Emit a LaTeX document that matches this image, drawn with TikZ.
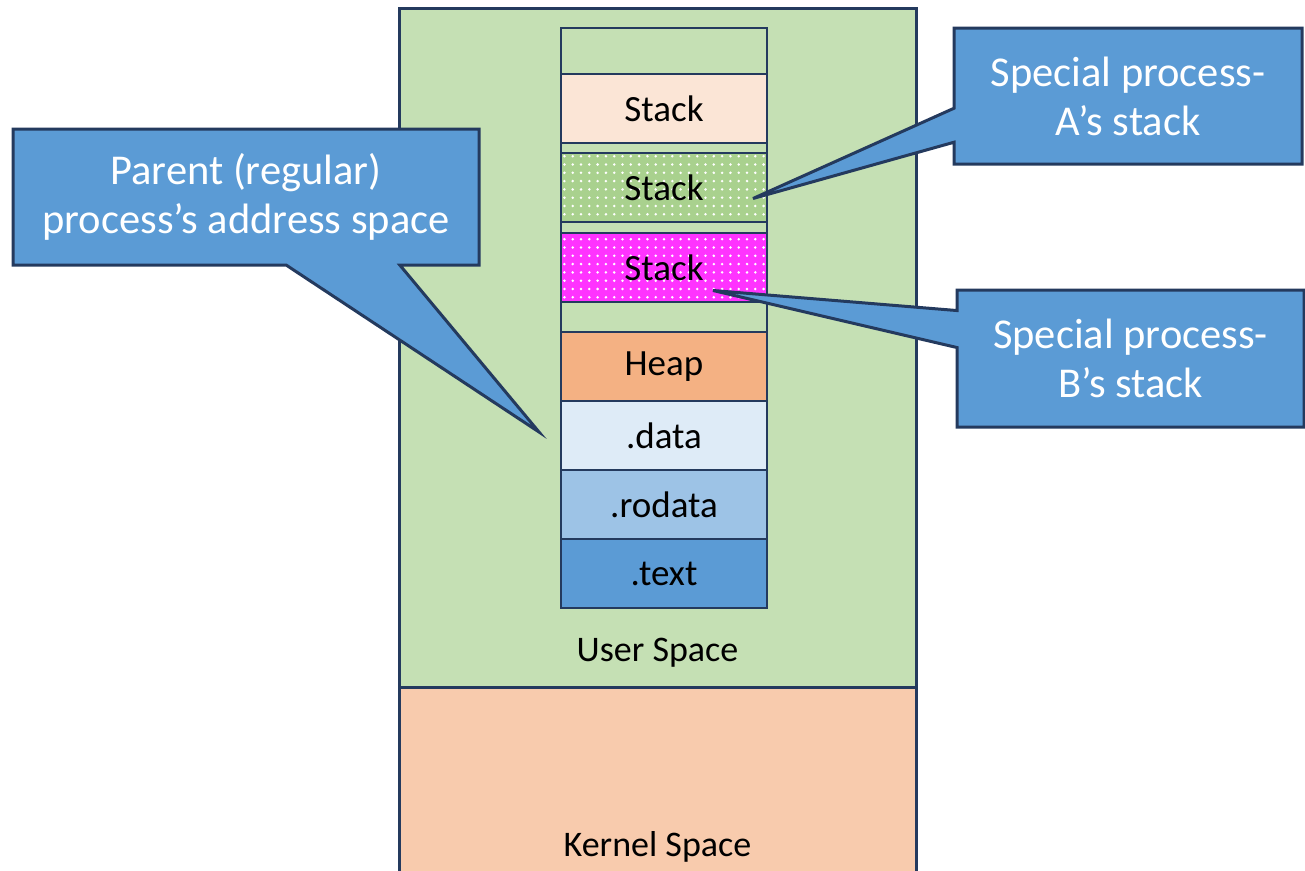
\documentclass[tikz,border=0pt]{standalone}
\usepackage{fontspec}
\setmainfont{Carlito}
\usetikzlibrary{positioning}
\usetikzlibrary{calc}
\usetikzlibrary{patterns.meta}

\definecolor{rimclr}{RGB}{36,58,94}
\definecolor{usergreen}{HTML}{C5E0B4}
\definecolor{kernelpeach}{HTML}{F8CBAD}
\definecolor{stackpeach}{HTML}{FBE5D6}
\definecolor{stackgreen}{HTML}{A9D18E}
\definecolor{stackpink}{HTML}{FF33FF}
\definecolor{heapclr}{HTML}{F4B183}
\definecolor{dataclr}{HTML}{DEEBF7}
\definecolor{rodataclr}{HTML}{9DC3E6}
\definecolor{textclr}{HTML}{5B9BD5}
\definecolor{calloutblue}{HTML}{5B9BD5}

\pgfdeclarelayer{front}
\pgfsetlayers{main,front}

\tikzset{
  space/.style={draw=rimclr, line width=3pt, minimum width=517, inner sep=0, outer sep=0},
  seg/.style={draw=rimclr, line width=2.5pt, minimum width=206, minimum height=69,
    inner sep=0, outer sep=0, font=\fontsize{37}{44}\selectfont},
  speckled/.style={preaction={fill=#1}, pattern={Dots[radius=1.4pt,distance=8.3pt]},
    pattern color=white},
  spacelabel/.style={font=\fontsize{36}{43}\selectfont},
  note/.style={text=white, align=center, inner sep=0, outer sep=0, minimum height=136,
    font=\fontsize{42.5}{49}\selectfont},
  bubble/.style={fill=calloutblue, draw=rimclr, line width=3pt}
}

\begin{document}
\begin{tikzpicture}[x=1pt,y=-1pt]
  \useasboundingbox (0,0) rectangle (1305,870);

  % user / kernel split
  \node[space, fill=usergreen, minimum height=679] (user) at (657.5,347.5) {};
  \node[space, fill=kernelpeach, minimum height=200, below=0pt of user] (kernel) {};
  \node[spacelabel] (userlbl) at ($(user.south)+(0,-34)$) {User Space};
  \node[spacelabel] (kernlbl) at ($(kernel.north)+(0,160)$) {Kernel Space};

  % process address space
  \draw[draw=rimclr, line width=2.5pt, fill=usergreen] (561,28) rectangle (767,608);
  \node[seg, minimum height=46] (top) at (664,51) {};
  \node[seg, fill=stackpeach, below=0pt of top] (stack) {Stack};
  \node[seg, speckled=stackgreen, below=10pt of stack] (stackA) {Stack};
  \node[seg, speckled=stackpink, below=11pt of stackA] (stackB) {Stack};
  \node[seg, fill=heapclr, below=30pt of stackB] (heap) {Heap};
  \node[seg, fill=dataclr, below=0pt of heap] (data) {.data};
  \node[seg, fill=rodataclr, below=0pt of data] (rodata) {.rodata};
  \node[seg, fill=textclr, below=0pt of rodata] (textseg) {.text};

  % callouts
  \begin{pgfonlayer}{front}
    \node[note, minimum width=466, anchor=north west] (parent) at (13,129)
      {Parent (regular)\\process’s address space};
    \node[note, minimum width=348, anchor=north west] (specA) at (954,28)
      {Special process-\\A’s stack};
    \node[note, minimum width=347, minimum height=137, anchor=north west] (specB) at (957,290)
      {Special process-\\B’s stack};
  \end{pgfonlayer}

  \coordinate (tipP) at (539,432);
  \coordinate (tipA) at ($(stackA.east)+(-14,11)$);
  \coordinate (tipB) at ($(stackB.center)+(49,23)$);

  \draw[bubble] (parent.north west) -- (parent.north east) -- (parent.south east)
    -- ($(parent.south west)!0.83!(parent.south east)$) -- (tipP)
    -- ($(parent.south west)!0.586!(parent.south east)$) -- (parent.south west) -- cycle;
  \draw[bubble] (specA.north west) -- (specA.north east) -- (specA.south east) -- (specA.south west)
    -- ($(specA.south west)!0.16!(specA.north west)$) -- (tipA)
    -- ($(specA.south west)!0.41!(specA.north west)$) -- cycle;
  \draw[bubble] (specB.north west) -- (specB.north east) -- (specB.south east) -- (specB.south west)
    -- ($(specB.south west)!0.58!(specB.north west)$) -- (tipB)
    -- ($(specB.south west)!0.85!(specB.north west)$) -- cycle;
\end{tikzpicture}
\end{document}
